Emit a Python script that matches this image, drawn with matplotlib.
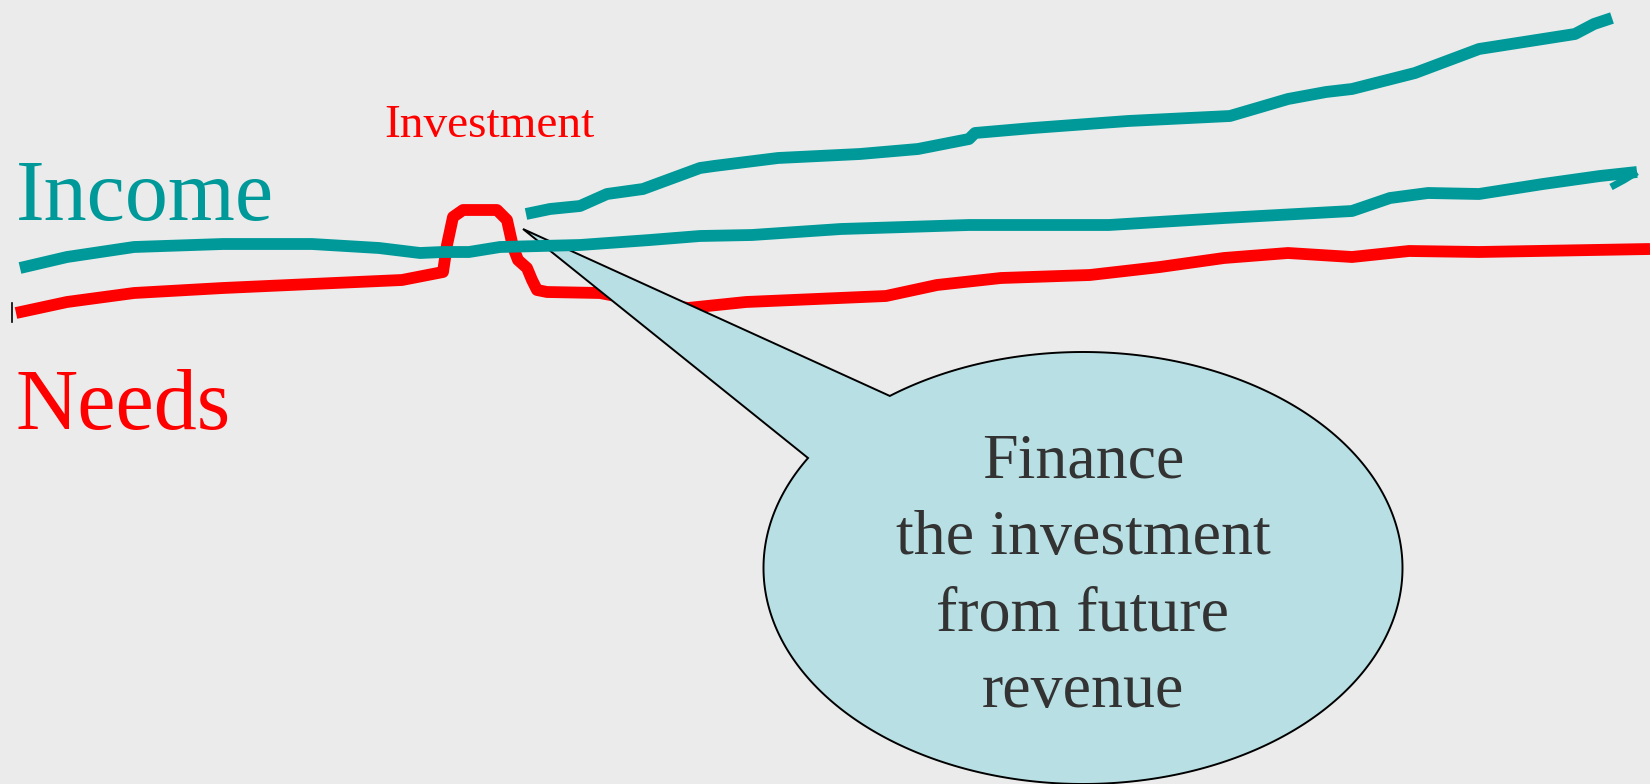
import numpy as np
import matplotlib
matplotlib.use("Agg")
import matplotlib.pyplot as plt
from matplotlib.patches import Polygon

# ---- data (reference pixel coordinates, y downward) ----
income_low_x = [20, 67, 134, 223, 312, 379, 420, 443, 469, 500, 580, 650, 700, 752, 841, 969,
                1109, 1224, 1352, 1390, 1428, 1479, 1543, 1600, 1637]
income_low_y = [268, 257, 247, 244, 244, 248, 253, 252, 252, 247, 245, 240, 236, 235, 229, 225,
                225, 218, 211, 198, 193, 194, 184, 176, 172]
income_hook_x = [1637, 1624, 1611]
income_hook_y = [172, 180, 187]

income_high_x = [526, 550, 580, 607, 643, 700, 714, 778, 860, 918, 969, 975, 1033, 1128, 1230,
                 1288, 1326, 1352, 1415, 1479, 1575, 1594, 1612]
income_high_y = [214, 209, 206, 194, 189, 168, 166, 158, 154, 149, 139, 133, 128, 121, 116,
                 99, 92, 89, 73, 49, 34, 24, 18]

needs_x = [16, 67, 134, 223, 312, 402, 443, 447, 453, 463, 480, 497, 507, 513, 518, 527, 532,
           537, 547, 600, 647, 688, 746, 886, 937, 1001, 1090, 1160, 1224, 1288, 1352, 1409,
           1479, 1650]
needs_y = [313, 302, 293, 288, 284, 280, 272, 245, 217, 210, 210, 210, 220, 247, 260, 268, 280,
           290, 292, 293, 302, 308, 302, 296, 285, 278, 275, 267, 258, 253, 257, 251,
           252, 249]

label_income = "Income"
label_needs = "Needs"
label_invest = "Investment"
bubble_lines = ["Finance", "the investment", "from future", "revenue"]

# ---- styling ----
W, H = 1650, 784
TEAL = "#009999"
RED = "#ff0000"
BG = "#ebebeb"
BUBBLE = "#b8dfe3"
SERIF = ["Liberation Serif", "DejaVu Serif"]

fig = plt.figure(figsize=(W / 100, H / 100), dpi=100)
fig.patch.set_facecolor(BG)
ax = fig.add_axes([0, 0, 1, 1])
ax.set_xlim(0, W)
ax.set_ylim(H, 0)
ax.set_facecolor(BG)
ax.axis("off")

lw = 8.5
ax.plot(needs_x, needs_y, color=RED, lw=lw, solid_joinstyle="round",
        solid_capstyle="butt", zorder=2)
ax.plot(income_low_x, income_low_y, color=TEAL, lw=lw, solid_joinstyle="round",
        solid_capstyle="butt", zorder=4)
ax.plot(income_hook_x, income_hook_y, color=TEAL, lw=5, solid_capstyle="butt", zorder=4)
ax.plot(income_high_x, income_high_y, color=TEAL, lw=lw, solid_joinstyle="round",
        solid_capstyle="butt", zorder=4)

# small cursor mark at the left
ax.plot([12, 12], [303, 322], color="black", lw=1.2, zorder=5)

# ---- callout bubble ----
cx, cy, a, b = 1083, 568, 319.5, 216
tip = (523, 229)
base1 = (891, 397)
base2 = (808, 458)
t1 = np.arctan2((base1[1] - cy) / b, (base1[0] - cx) / a)
t2 = np.arctan2((base2[1] - cy) / b, (base2[0] - cx) / a)
# go the long way round from base1 to base2 (avoiding the tail gap)
if t2 < t1:
    t2 += 2 * np.pi
ts = np.linspace(t1, t2, 500)
ex = cx + a * np.cos(ts)
ey = cy + b * np.sin(ts)
pts = [tip] + list(zip(ex, ey))
bubble = Polygon(pts, closed=True, facecolor=BUBBLE, edgecolor="black", lw=1.4,
                 joinstyle="miter", zorder=3)
ax.add_patch(bubble)

for i, line in enumerate(bubble_lines):
    ax.text(1083, 477 + i * 76.7, line, ha="center", va="baseline", fontsize=46,
            family=SERIF, color="#333333", zorder=6)

ax.text(16, 220, label_income, ha="left", va="baseline", fontsize=62, family=SERIF,
        color=TEAL, zorder=6)
ax.text(15, 429, label_needs, ha="left", va="baseline", fontsize=62, family=SERIF,
        color=RED, zorder=6)
ax.text(384, 137, label_invest, ha="left", va="baseline", fontsize=34, family=SERIF,
        color=RED, zorder=6)

fig.savefig("out.png", dpi=100, facecolor=BG)
